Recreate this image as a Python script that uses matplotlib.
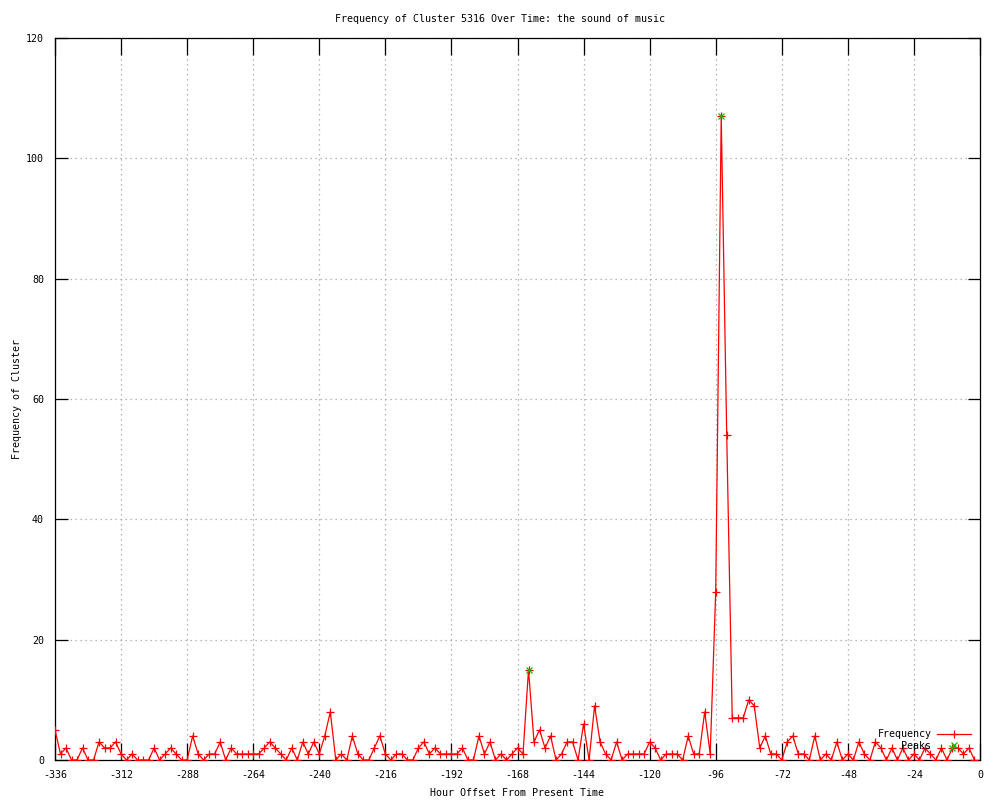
import matplotlib
matplotlib.use("Agg")
import matplotlib.pyplot as plt
import numpy as np

# Data: hour offsets (every 2 hours) and cluster frequency
hours = list(range(-336, 0, 2))
frequency = [
    5, 1, 2, 0, 0, 2, 0, 0, 3, 2, 2, 3, 1, 0, 1, 0, 0, 0, 2, 0,
    1, 2, 1, 0, 0, 4, 1, 0, 1, 1, 3, 0, 2, 1, 1, 1, 1, 1, 2, 3,
    2, 1, 0, 2, 0, 3, 1, 3, 1, 4, 8, 0, 1, 0, 4, 1, 0, 0, 2, 4,
    1, 0, 1, 1, 0, 0, 2, 3, 1, 2, 1, 1, 1, 1, 2, 0, 0, 4, 1, 3,
    0, 1, 0, 1, 2, 1, 15, 3, 5, 2, 4, 0, 1, 3, 3, 0, 6, 0, 9, 3,
    1, 0, 3, 0, 1, 1, 1, 1, 3, 2, 0, 1, 1, 1, 0, 4, 1, 1, 8, 1,
    28, 107, 54, 7, 7, 7, 10, 9, 2, 4, 1, 1, 0, 3, 4, 1, 1, 0, 4, 0,
    1, 0, 3, 0, 1, 0, 3, 1, 0, 3, 2, 0, 2, 0, 2, 0, 1, 0, 2, 1,
    0, 2, 0, 2, 2, 1, 2, 0,
]
peak_hours = [-164, -94, -10]
peak_values = [15, 107, 2]

title = "Frequency of Cluster 5316 Over Time: the sound of music"
xlabel = "Hour Offset From Present Time"
ylabel = "Frequency of Cluster"
xticks = list(range(-336, 1, 24))
yticks = list(range(0, 121, 20))

plt.rcParams['font.family'] = ['DejaVu Sans Mono']
plt.rcParams['axes.unicode_minus'] = False
fs = 7.2

fig = plt.figure(figsize=(10, 8), dpi=100)
ax = fig.add_axes([0.055, 0.05, 0.925, 0.9025])

ax.plot(hours, frequency, color='#ff0000', linewidth=0.9, marker='+',
        markersize=6.3, markeredgewidth=0.9, label='Frequency', zorder=3)
ax.plot(peak_hours, peak_values, linestyle='none', color='#00c000',
        marker='x', markersize=5, markeredgewidth=0.9, label='Peaks', zorder=4)

ax.set_xlim(-336, 0)
ax.set_ylim(0, 120)
ax.set_xticks(xticks)
ax.set_yticks(yticks)
ax.grid(True, color='#a0a0a0', linestyle=(0, (1, 3)), linewidth=0.9)
ax.set_axisbelow(True)
for s in ax.spines.values():
    s.set_color('black')
    s.set_linewidth(0.9)
ax.tick_params(axis='x', direction='in', length=12, width=0.9, top=True,
               labelsize=fs, pad=7)
ax.tick_params(axis='y', direction='in', length=9, width=0.9, right=True,
               labelsize=fs, pad=8)

fig.suptitle(title, fontsize=fs, y=0.982)
ax.set_xlabel(xlabel, fontsize=fs, labelpad=6)
ax.set_ylabel(ylabel, fontsize=fs, labelpad=3)

leg = ax.legend(loc='lower right', bbox_to_anchor=(0.995, 0.007),
                frameon=False, markerfirst=False, fontsize=fs,
                handlelength=3.4, handletextpad=0.6, labelspacing=0.15,
                borderaxespad=0.0)

fig.savefig('out.png', dpi=100, facecolor='white')
